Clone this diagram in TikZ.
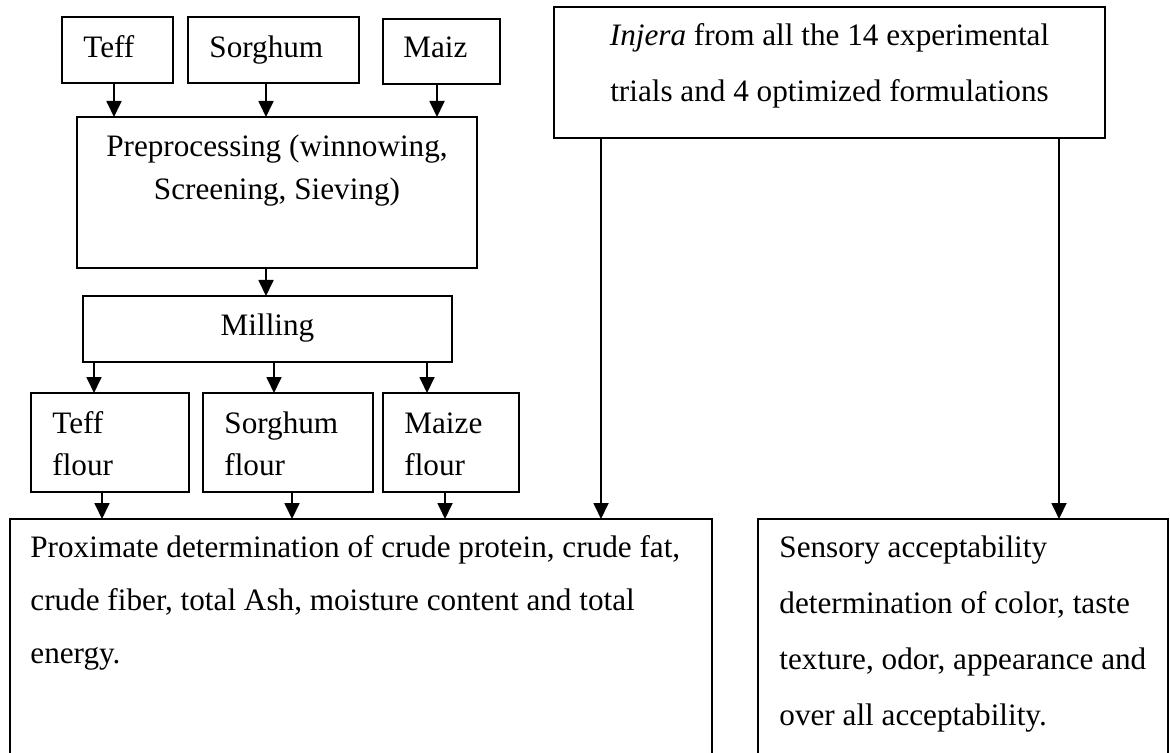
\documentclass[tikz,border=0pt]{standalone}
\usepackage{fontspec}
\setmainfont{Liberation Serif}
\usetikzlibrary{arrows.meta}
\newcommand{\pbox}[5]{\node[box, minimum width={(#4-#2)*0.5pt}, minimum height={(#5-#3)*0.5pt}] (#1) at (#2,#3) {};}
\begin{document}
\begin{tikzpicture}[x=0.5pt,y=-0.5pt,
  box/.style={draw, line width=0.75pt, inner sep=0pt, outer sep=0pt, anchor=north west},
  txt/.style={anchor=base west, inner sep=0pt, font=\fontsize{15.6pt}{18pt}\selectfont},
  ctxt/.style={txt, anchor=base},
  arr/.style={line width=0.9pt, -{Triangle[length=8pt,width=7.5pt]}}]
\clip (0,0) rectangle (1170,753);
% boxes
\pbox{teff}{62}{17}{173}{83}
\pbox{sorghum}{188}{17}{359}{83}
\pbox{maiz}{383}{19}{500}{84}
\pbox{prep}{77}{117}{477}{268}
\pbox{mill}{83}{296}{452}{362}
\pbox{tflour}{31}{393}{189}{492}
\pbox{sflour}{203}{393}{373}{492}
\pbox{mflour}{383}{393}{519}{492}
\pbox{injera}{554}{7}{1105}{138}
\pbox{prox}{10}{519}{712}{790}
\pbox{sens}{758}{519}{1168}{790}
% texts
\node[txt] (tteff) at (83,58) {Teff};
\node[txt] (tsorg) at (209,58) {Sorghum};
\node[txt] (tmaiz) at (403,58) {Maiz};
\node[ctxt] (tprep1) at (277,157) {Preprocessing (winnowing,};
\node[ctxt] (tprep2) at (277,200) {Screening, Sieving)};
\node[ctxt] (tmill) at (267.5,335) {Milling};
\node[txt] (ttf1) at (52,433) {Teff};
\node[txt] (ttf2) at (52,475) {flour};
\node[txt] (tsf1) at (224,433) {Sorghum};
\node[txt] (tsf2) at (224,475) {flour};
\node[txt] (tmf1) at (404,433) {Maize};
\node[txt] (tmf2) at (404,475) {flour};
\node[ctxt] (tinj1) at (829.5,46) {\textit{Injera} from all the 14 experimental};
\node[ctxt] (tinj2) at (829.5,102) {trials and 4 optimized formulations};
\node[txt] (tpx1) at (30,557) {Proximate determination of crude protein, crude fat,};
\node[txt] (tpx2) at (30,610) {crude fiber, total Ash, moisture content and total};
\node[txt] (tpx3) at (30,663) {energy.};
\node[txt] (tsn1) at (779,557) {Sensory acceptability};
\node[txt] (tsn2) at (779,613) {determination of color, taste};
\node[txt] (tsn3) at (779,669) {texture, odor, appearance and};
\node[txt] (tsn4) at (779,725) {over all acceptability.};
% columns
\coordinate (c114) at (114,0);
\coordinate (c266) at (266,0);
\coordinate (c437) at (437,0);
\coordinate (c94) at (94,0);
\coordinate (c274) at (274,0);
\coordinate (c427) at (427,0);
\coordinate (c102) at (102,0);
\coordinate (c292) at (292,0);
\coordinate (c445) at (445,0);
\coordinate (c601) at (601,0);
\coordinate (c1059) at (1059,0);
% arrows
\draw[arr] (teff.south -| c114) -- (prep.north -| c114);
\draw[arr] (sorghum.south -| c266) -- (prep.north -| c266);
\draw[arr] (maiz.south -| c437) -- (prep.north -| c437);
\draw[arr] (prep.south -| c266) -- (mill.north -| c266);
\draw[arr] (mill.south -| c94) -- (tflour.north -| c94);
\draw[arr] (mill.south -| c274) -- (sflour.north -| c274);
\draw[arr] (mill.south -| c427) -- (mflour.north -| c427);
\draw[arr] (tflour.south -| c102) -- (prox.north -| c102);
\draw[arr] (sflour.south -| c292) -- (prox.north -| c292);
\draw[arr] (mflour.south -| c445) -- (prox.north -| c445);
\draw[arr] (injera.south -| c601) -- (prox.north -| c601);
\draw[arr] (injera.south -| c1059) -- (sens.north -| c1059);
\end{tikzpicture}
\end{document}
